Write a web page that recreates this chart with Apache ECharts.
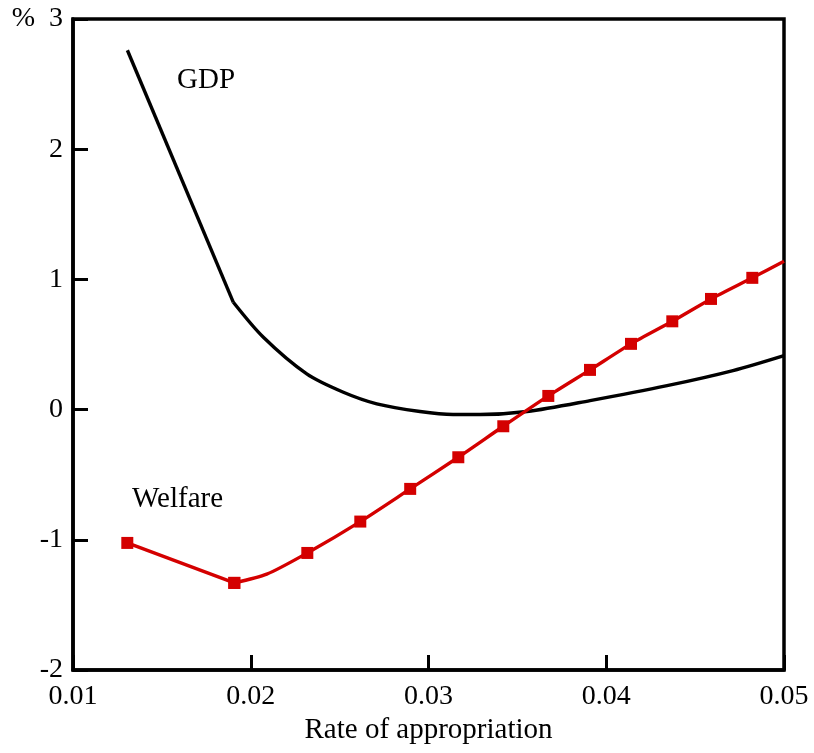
<!DOCTYPE html>
<html>
<head>
<meta charset="utf-8">
<script src="https://cdn.jsdelivr.net/npm/echarts@6/dist/echarts.min.js"></script>
<style>
html,body{margin:0;padding:0;background:#fff;}
#chart{width:814px;height:753px;}
</style>
</head>
<body>
<div id="chart"></div>
<script>
// ---- data ----
const gdpX = [0.01306, 0.01902, 0.02071, 0.02315, 0.02521, 0.02709, 0.02952, 0.03138, 0.0329, 0.03554, 0.03909, 0.04342, 0.04713, 0.05];
const gdpY = [2.76, 0.824, 0.555, 0.274, 0.133, 0.044, -0.015, -0.038, -0.038, -0.015, 0.069, 0.184, 0.30, 0.415];

const welfareX = [0.013055, 0.019075, 0.0209, 0.023182, 0.026163, 0.02897, 0.031677, 0.034208, 0.03674, 0.039086, 0.041392, 0.043716, 0.045893, 0.048217, 0.05];
const welfareY = [-1.024, -1.331, -1.264, -1.101, -0.860, -0.609, -0.366, -0.128, 0.105, 0.305, 0.505, 0.678, 0.850, 1.012, 1.139];
const welfareMarked = [true, true, false, true, true, true, true, true, true, true, true, true, true, true, false];

const xTicks = [0.01, 0.02, 0.03, 0.04, 0.05];
const yTicks = [-2, -1, 0, 1, 2, 3];
const xTitle = 'Rate of appropriation';
const seriesNames = ['GDP', 'Welfare'];

const FONT = '"Liberation Serif", "Times New Roman", serif';
const RED = '#d40000';
const LW = 3.4;

const chart = echarts.init(document.getElementById('chart'), null, {renderer: 'canvas'});

const gdpData = gdpX.map((x, i) => [x, gdpY[i]]);
const welfareData = welfareX.map((x, i) => welfareMarked[i]
  ? {value: [x, welfareY[i]]}
  : {value: [x, welfareY[i]], symbol: 'none'});

chart.setOption({
  animation: false,
  backgroundColor: '#fff',
  grid: {
    left: 73, right: 30, top: 19, bottom: 83,
    show: true, borderColor: '#000', borderWidth: 3.5, backgroundColor: 'transparent'
  },
  xAxis: {
    type: 'value',
    min: xTicks[0], max: xTicks[xTicks.length - 1], interval: 0.01,
    name: xTitle, nameLocation: 'middle', nameGap: 44,
    nameTextStyle: {fontFamily: FONT, fontSize: 29, color: '#000'},
    axisLine: {show: true, onZero: false, lineStyle: {color: '#000', width: 3.5}},
    axisTick: {show: true, inside: true, length: 15, lineStyle: {color: '#000', width: 3}},
    axisLabel: {
      margin: 13, fontFamily: FONT, fontSize: 28, color: '#000',
      formatter: v => v.toFixed(2)
    },
    splitLine: {show: false}
  },
  yAxis: {
    type: 'value',
    min: yTicks[0], max: yTicks[yTicks.length - 1], interval: 1,
    axisLine: {show: true, onZero: false, lineStyle: {color: '#000', width: 3.5}},
    axisTick: {show: true, inside: true, length: 15, lineStyle: {color: '#000', width: 3}},
    axisLabel: {
      margin: 10, fontFamily: FONT, fontSize: 28, color: '#000',
      formatter: v => (v === yTicks[yTicks.length - 1] ? '%  ' + v : String(v))
    },
    splitLine: {show: false}
  },
  series: [
    {
      name: seriesNames[0], type: 'line', data: gdpData.slice(0, 2),
      symbol: 'none', lineStyle: {color: '#000', width: LW}, z: 2
    },
    {
      name: seriesNames[0], type: 'line', data: gdpData.slice(1),
      symbol: 'none', smooth: 0.3, lineStyle: {color: '#000', width: LW}, z: 2
    },
    {
      name: seriesNames[1], type: 'line', data: welfareData.slice(0, 2),
      symbol: 'rect', symbolSize: 12,
      itemStyle: {color: RED}, lineStyle: {color: RED, width: LW}, z: 3
    },
    {
      name: seriesNames[1], type: 'line', data: welfareData.slice(1),
      symbol: 'rect', symbolSize: 12, smooth: 0.25,
      itemStyle: {color: RED}, lineStyle: {color: RED, width: LW}, z: 3
    }
  ],
  graphic: [
    {type: 'text', left: 177, top: 66, style: {text: seriesNames[0], font: '29px ' + FONT, fill: '#000'}},
    {type: 'text', left: 132, top: 485, style: {text: seriesNames[1], font: '29px ' + FONT, fill: '#000'}}
  ]
});
</script>
</body>
</html>
